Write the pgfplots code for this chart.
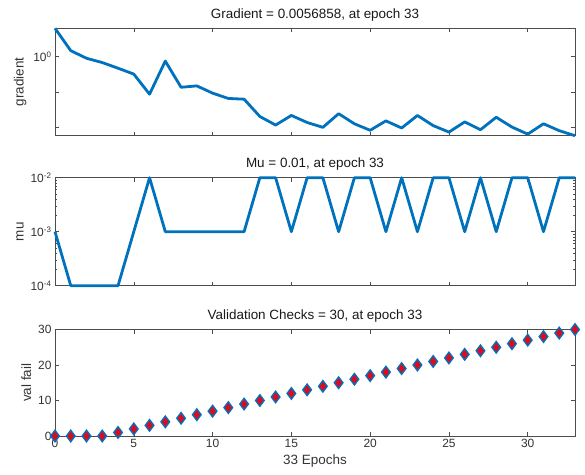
\documentclass[border=0pt]{standalone}
\usepackage{fontspec}
\setmainfont{Liberation Sans}
\usepackage{pgfplots}
\pgfplotsset{compat=1.18}
\definecolor{mblue}{rgb}{0,0.447,0.741}
\definecolor{mred}{rgb}{0.85,0.05,0.12}
\begin{document}
\begin{tikzpicture}
\path[use as bounding box] (0,0) rectangle (585bp,475bp);
\pgfplotsset{mystyle/.style={
  scale only axis, width=520bp, xmin=0, xmax=33, anchor=south west,
  clip=false,
  axis line style={draw=black!70, line width=0.6bp},
  every tick/.style={draw=black!70, line width=0.5bp},
  tick align=inside, major tick length=4bp, minor tick length=2.2bp,
  xtick={0,5,...,30},
  /pgf/number format/assume math mode=true,
  tick label style={font=\fontsize{12}{14}\selectfont, text=black!80},
  title style={font=\fontsize{13.5}{16}\selectfont, text=black!90, yshift=-2bp},
  label style={font=\fontsize{13.5}{16}\selectfont, text=black!80},
}}
% Gradient
\begin{axis}[mystyle, at={(55bp,339.3bp)}, height=107.4bp,
  ymode=log, ymin=0.0056858, ymax=6.4,
  ytick={0.01,0.1,1}, yticklabels={,,10\textsuperscript{0}},
  minor tick length=0pt, xticklabels={},
  title={Gradient = 0.0056858, at epoch 33}, ylabel={gradient}]
\addplot[mblue, line width=2.8bp, line join=round] coordinates {
(0,6.4) (1,1.48) (2,0.90) (3,0.68) (4,0.47) (5,0.32) (6,0.086) (7,0.75)
(8,0.135) (9,0.148) (10,0.092) (11,0.065) (12,0.062) (13,0.020) (14,0.0114)
(15,0.0214) (16,0.0135) (17,0.0098) (18,0.024) (19,0.0124) (20,0.0081)
(21,0.015) (22,0.0094) (23,0.0214) (24,0.011) (25,0.0072) (26,0.014)
(27,0.0084) (28,0.019) (29,0.010) (30,0.0063) (31,0.0124) (32,0.0079)
(33,0.0056858)};
\end{axis}
% Mu
\begin{axis}[mystyle, at={(55bp,189.3bp)}, height=108bp,
  ymode=log, ymin=1e-4, ymax=1e-2,
  ytick={1e-4,1e-3,1e-2},
  yticklabels={10\textsuperscript{-4},10\textsuperscript{-3},10\textsuperscript{-2}},
  minor ytick={2e-4,3e-4,4e-4,5e-4,6e-4,7e-4,8e-4,9e-4,2e-3,3e-3,4e-3,5e-3,6e-3,7e-3,8e-3,9e-3},
  xticklabels={},
  title={Mu = 0.01, at epoch 33}, ylabel={mu}]
\addplot[mblue, line width=2.8bp, line join=round] coordinates {
(0,1e-3) (1,1e-4) (2,1e-4) (3,1e-4) (4,1e-4) (5,1e-3) (6,1e-2) (7,1e-3)
(8,1e-3) (9,1e-3) (10,1e-3) (11,1e-3) (12,1e-3) (13,1e-2) (14,1e-2)
(15,1e-3) (16,1e-2) (17,1e-2) (18,1e-3) (19,1e-2) (20,1e-2) (21,1e-3)
(22,1e-2) (23,1e-3) (24,1e-2) (25,1e-2) (26,1e-3) (27,1e-2) (28,1e-3)
(29,1e-2) (30,1e-2) (31,1e-3) (32,1e-2) (33,1e-2)};
\end{axis}
% Validation checks
\begin{axis}[mystyle, at={(55bp,39bp)}, height=106.5bp,
  ymin=0, ymax=30, ytick={0,10,20,30},
  title={Validation Checks = 30, at epoch 33}, ylabel={val fail},
  xlabel={33 Epochs}]
\addplot[only marks, mark=diamond*, mark size=5.8bp,
  mark options={draw=mblue, fill=mred, line width=1.3bp}] coordinates {
(0,0) (1,0) (2,0) (3,0) (4,1) (5,2) (6,3) (7,4) (8,5) (9,6) (10,7)
(11,8) (12,9) (13,10) (14,11) (15,12) (16,13) (17,14) (18,15) (19,16)
(20,17) (21,18) (22,19) (23,20) (24,21) (25,22) (26,23) (27,24) (28,25)
(29,26) (30,27) (31,28) (32,29) (33,30)};
\end{axis}
\end{tikzpicture}
\end{document}
